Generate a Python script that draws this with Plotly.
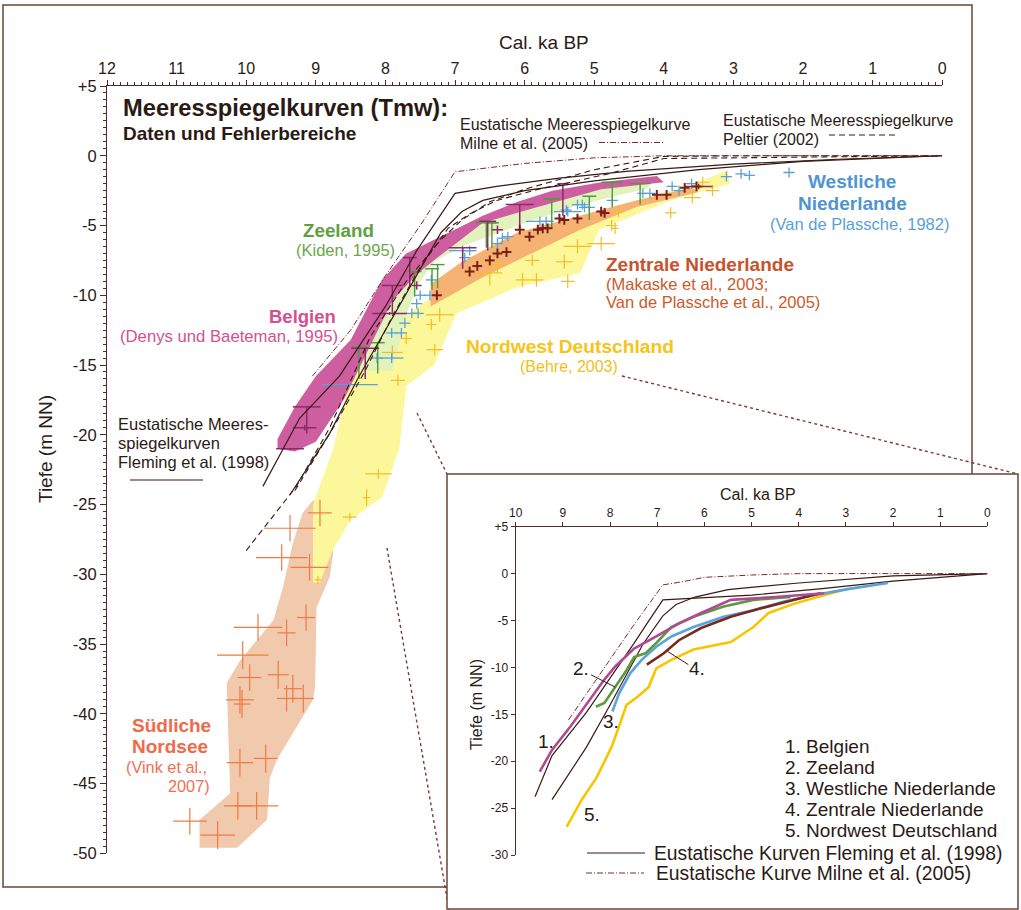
import plotly.graph_objects as go

W, H = 1021, 910
def px(x):
    return x / W
def py(y):
    return 1 - y / H

FONT = "Liberation Sans, Arial, sans-serif"
TXT = "#2b1a14"
AX = "#4a2c22"
FRAME = "#6b4535"
CURVE = "#3a1a12"
MILNE_C = "#7a2a2a"

# ---------------- main chart: axis ticks ----------------
main_xticks = list(range(0, 13))
main_yticks = [5, 0, -5, -10, -15, -20, -25, -30, -35, -40, -45, -50]
main_yticktext = ["+5", "0", "-5", "-10", "-15", "-20", "-25", "-30", "-35", "-40", "-45", "-50"]
inset_xticks = list(range(0, 11))
inset_yticks = [5, 0, -5, -10, -15, -20, -25, -30]
inset_yticktext = ["+5", "0", "-5", "-10", "-15", "-20", "-25", "-30"]

# ---------------- main chart: error bands ----------------
sn_band_x = [10.67, 10.67, 10.23, 10.28, 10.09, 9.61, 9.47, 9.33, 9.19, 9.04, 8.80, 8.75, 8.80, 8.99, 9.01, 9.04, 9.56, 9.66, 9.70, 10.13]
sn_band_y = [-49.6, -47.6, -45.7, -37.8, -36.2, -33.3, -30.9, -27.8, -25.6, -24.7, -26.0, -28.5, -30.2, -32.4, -38.1, -39.0, -43.3, -44.6, -47.6, -49.6]

nd_band_x = [9.04, 9.04, 8.75, 8.47, 8.37, 8.00, 7.30, 6.60, 5.90, 5.20, 4.40, 3.60, 3.08,
             3.05, 3.90, 4.93, 5.20, 6.10, 6.98, 7.30, 7.70, 7.80, 8.05, 8.50, 8.76, 8.94]
nd_band_y = [-30.6, -25.0, -21.0, -15.0, -13.5, -12.5, -10.0, -8.0, -6.2, -4.6, -3.2, -2.1, -1.0,
             -2.0, -3.2, -5.3, -8.4, -9.4, -11.3, -15.0, -16.5, -21.0, -24.5, -26.1, -28.3, -30.6]

ze_band_x = [8.45, 8.00, 7.55, 7.25, 6.60, 5.90, 4.90, 4.25, 4.20, 5.20, 6.10, 6.90, 7.30, 7.50, 7.70, 7.90, 8.42]
ze_band_y = [-13.5, -10.0, -8.3, -7.1, -4.7, -3.7, -2.3, -1.8, -2.3, -3.5, -5.0, -6.5, -7.6, -9.0, -11.3, -15.4, -15.4]

zn_band_x = [7.35, 6.90, 6.10, 5.20, 4.40, 3.60, 3.50, 4.40, 5.20, 5.90, 6.60, 7.35]
zn_band_y = [-9.2, -7.6, -5.5, -4.3, -3.2, -2.3, -2.6, -3.7, -5.3, -7.0, -8.7, -10.8]

be_band_x = [9.55, 9.30, 9.00, 8.50, 8.05, 7.70, 7.25, 6.60, 6.10, 5.60, 4.90, 4.10,
             4.00, 4.90, 5.90, 6.60, 7.25, 7.55, 7.90, 8.30, 8.60, 9.00, 9.30, 9.55]
be_band_y = [-20.3, -18.0, -15.8, -13.2, -8.9, -7.0, -5.9, -4.3, -3.3, -2.5, -1.9, -1.45,
             -1.9, -2.4, -3.8, -4.8, -7.3, -8.5, -10.4, -14.5, -17.5, -20.5, -21.2, -21.0]

# ---------------- main chart: eustatic curves ----------------
fleming_a_x = [9.76, 9.23, 8.66, 8.00, 7.55, 7.00, 6.40, 5.50, 4.50, 3.00, 1.50, 0.0]
fleming_a_y = [-23.7, -18.8, -15.8, -10.8, -6.8, -2.7, -2.2, -1.6, -1.1, -0.6, -0.25, 0.0]
fleming_b_x = [9.37, 8.80, 8.40, 7.94, 7.60, 7.20, 6.90, 6.60, 6.00, 5.00, 3.50, 2.00, 0.0]
fleming_b_y = [-24.3, -19.9, -16.0, -12.0, -9.0, -5.5, -4.0, -3.2, -2.5, -1.8, -1.0, -0.4, 0.0]
peltier_a_x = [10.0, 9.28, 8.80, 8.22, 7.70, 7.20, 6.90, 6.50, 6.00, 5.00, 4.00, 3.00, 0.0]
peltier_a_y = [-28.3, -23.7, -19.5, -13.0, -9.0, -6.0, -4.6, -3.3, -2.4, -1.0, -0.05, 0.0, 0.0]
peltier_b_x = [9.30, 8.75, 8.30, 7.90, 7.50, 7.10, 6.80, 6.40, 5.80, 4.80, 4.00, 0.0]
peltier_b_y = [-24.0, -19.5, -15.5, -11.5, -8.0, -5.2, -4.2, -3.2, -2.4, -1.3, -0.2, 0.0]
milne_x = [9.05, 8.50, 8.00, 7.50, 7.00, 6.50, 6.00, 5.00, 4.00, 0.0]
milne_y = [-15.8, -12.5, -8.6, -5.0, -1.15, -0.85, -0.55, -0.15, 0.0, 0.0]

# ---------------- main chart: data points ----------------
# Suedliche Nordsee (Vink et al., 2007)
sn_x = [9.37, 9.49, 9.09, 8.94, 9.83, 9.42, 9.14, 10.05, 9.95, 10.09, 10.06, 9.54, 9.42, 9.33, 9.18, 10.09, 9.72, 10.12, 9.85, 10.81, 10.41]
sn_y = [-26.7, -28.8, -29.5, -25.6, -33.8, -34.2, -33.1, -35.8, -37.4, -39.0, -39.3, -37.2, -38.9, -38.2, -38.9, -43.5, -43.2, -46.6, -46.6, -47.7, -48.7]
sn_xerr = [0.37, 0.37, 0.27, 0.17, 0.35, 0.13, 0.13, 0.37, 0.17, 0.20, 0.12, 0.15, 0.14, 0.13, 0.15, 0.19, 0.17, 0.20, 0.31, 0.24, 0.25]
sn_yerr = [0.95, 0.95, 0.95, 0.95, 0.95, 0.95, 0.95, 1.0, 0.95, 1.0, 1.0, 1.0, 0.95, 1.0, 1.0, 1.0, 1.0, 1.0, 1.0, 0.95, 1.0]

# Nordwest Deutschland (Behre, 2003)
nd_x = [8.10, 8.27, 8.51, 8.97, 7.82, 7.90, 7.70, 7.34, 7.22, 7.29, 6.50, 6.39, 6.03, 5.83, 5.89, 5.43, 5.38, 5.24, 4.90, 4.75, 4.70, 4.65, 3.90, 3.59, 3.30, 3.44]
nd_y = [-22.8, -24.5, -25.9, -30.4, -16.1, -14.1, -13.1, -12.1, -11.4, -13.9, -8.4, -7.8, -8.9, -8.9, -7.5, -7.6, -9.0, -6.5, -6.3, -5.0, -5.2, -4.0, -4.1, -3.0, -2.5, -1.9]
nd_xerr = [0.19, 0.05, 0.10, 0.05, 0.10, 0.15, 0.08, 0.07, 0.20, 0.12, 0.18, 0.15, 0.10, 0.10, 0.10, 0.12, 0.10, 0.20, 0.20, 0.08, 0.05, 0.08, 0.08, 0.12, 0.10, 0.10]
nd_yerr = [0.35, 0.60, 0.30, 0.30, 0.40, 0.50, 0.40, 0.40, 0.50, 0.40, 0.90, 0.60, 0.50, 0.50, 0.40, 0.50, 0.50, 0.50, 0.50, 0.40, 0.40, 0.40, 0.40, 0.40, 0.40, 0.40]

# Westliche Niederlande (Van de Plassche, 1982)
wn_x = [8.51, 8.12, 7.91, 7.91, 7.77, 7.72, 7.62, 7.53, 7.55, 7.50, 7.36, 7.34, 6.89, 6.86, 6.79, 6.39, 6.32, 6.24,
        5.78, 5.69, 5.40, 5.38, 5.24, 5.17, 5.14, 5.07, 4.74, 4.30, 4.20, 3.88, 3.78, 3.60, 3.10, 2.89, 2.77, 2.20]
wn_y = [-16.4, -14.5, -14.5, -12.7, -12.7, -12.0, -11.3, -11.3, -10.6, -10.0, -10.0, -8.9, -6.8, -7.3, -6.8, -6.3, -5.9, -5.8,
        -4.7, -4.7, -3.9, -4.0, -3.5, -3.5, -3.7, -3.7, -3.2, -2.7, -2.7, -2.2, -2.5, -2.0, -1.5, -1.3, -1.4, -1.2]
wn_xerr = [0.40, 0.08, 0.17, 0.08, 0.08, 0.08, 0.08, 0.08, 0.08, 0.08, 0.08, 0.08, 0.20, 0.08, 0.08, 0.08, 0.08, 0.08,
           0.20, 0.08, 0.08, 0.20, 0.08, 0.08, 0.08, 0.08, 0.08, 0.08, 0.08, 0.08, 0.08, 0.08, 0.08, 0.08, 0.08, 0.08]
wn_yerr = [0.10, 0.35, 0.35, 0.35, 0.35, 0.35, 0.35, 0.35, 0.35, 0.35, 0.35, 0.35, 0.35, 0.35, 0.35, 0.35, 0.35, 0.35,
           0.35, 0.35, 0.35, 0.35, 0.35, 0.35, 0.35, 0.35, 0.35, 0.35, 0.35, 0.35, 0.35, 0.35, 0.35, 0.35, 0.35, 0.35]

# Zeeland (Kiden, 1995) - upper limits (T shapes)
ze_x = [8.38, 8.11, 7.58, 7.33, 7.25, 6.55, 6.47, 5.61, 5.07, 4.74, 4.34]
ze_y = [-13.7, -13.4, -8.3, -8.1, -7.8, -4.8, -4.8, -3.1, -2.9, -1.9, -2.0]
ze_xerr = [0.11, 0.10, 0.10, 0.10, 0.10, 0.15, 0.10, 0.12, 0.10, 0.15, 0.15]
ze_ydown = [2.3, 2.2, 1.8, 1.5, 1.7, 1.8, 1.8, 2.1, 1.7, 1.8, 1.5]

# Belgien (Denys und Baeteman, 1995)
be_x = [9.13, 9.16, 9.37, 8.29, 7.90, 7.94, 7.65, 7.55, 6.89, 6.53, 6.39, 6.07, 5.45, 3.50]
be_y = [-18.0, -19.5, -21.0, -13.8, -9.3, -11.3, -7.3, -9.3, -6.6, -4.7, -5.3, -3.5, -2.0, -2.2]
be_xerr = [0.20, 0.17, 0.20, 0.20, 0.15, 0.25, 0.10, 0.07, 0.20, 0.12, 0.08, 0.20, 0.08, 0.20]
be_yup = [0.0, 0.2, 0.0, 0.0, 0.0, 0.1, 0.0, 0.3, 0.0, 0.0, 0.3, 0.0, 0.0, 0.2]
be_ydown = [1.9, 0.2, 0.1, 2.2, 2.0, 0.1, 2.0, 0.3, 1.5, 2.1, 0.3, 2.0, 2.3, 0.2]

# Zentrale Niederlande (Makaske et al., 2003; Van de Plassche et al., 2005)
zn_x = [7.26, 6.79, 6.68, 6.50, 6.39, 6.26, 6.07, 5.93, 5.81, 5.74, 5.67, 5.50, 5.43, 5.24, 4.90, 4.85, 4.10, 3.96, 3.70, 3.53]
zn_y = [-10.0, -8.3, -7.9, -7.5, -7.0, -6.9, -5.3, -5.8, -5.3, -5.2, -5.2, -4.5, -4.6, -4.5, -4.0, -4.1, -2.8, -2.8, -2.3, -2.2]
zn_xerr = [0.07, 0.07, 0.07, 0.07, 0.07, 0.07, 0.07, 0.07, 0.07, 0.07, 0.07, 0.07, 0.07, 0.07, 0.07, 0.07, 0.07, 0.07, 0.07, 0.07]
zn_yerr = [0.35, 0.35, 0.35, 0.35, 0.35, 0.35, 0.35, 0.35, 0.35, 0.35, 0.35, 0.35, 0.35, 0.35, 0.35, 0.35, 0.35, 0.35, 0.35, 0.35]

# ---------------- inset: summary curves ----------------
in_belg_x = [9.49, 9.23, 8.84, 8.44, 8.12, 7.89, 7.49, 7.02, 6.54, 6.07, 5.44, 4.49, 3.46]
in_belg_y = [-21.1, -18.8, -16.3, -13.5, -11.3, -9.9, -8.0, -6.7, -5.3, -4.2, -2.8, -2.5, -2.1]
in_zee_x = [8.30, 8.12, 7.89, 7.65, 7.49, 7.25, 7.02, 6.70, 6.23, 5.59, 4.96, 4.17]
in_zee_y = [-14.2, -13.8, -12.1, -10.3, -8.9, -8.5, -7.4, -5.7, -4.6, -3.5, -2.8, -2.5]
in_wnl_x = [7.95, 7.81, 7.57, 7.33, 7.02, 6.70, 6.23, 5.59, 4.96, 4.33, 3.69, 2.90, 2.11]
in_wnl_y = [-14.7, -12.8, -10.6, -9.2, -7.8, -6.7, -5.7, -4.6, -3.9, -3.0, -2.3, -1.6, -1.0]
in_znl_x = [7.22, 6.86, 6.54, 6.07, 5.44, 4.80, 4.09, 3.54]
in_znl_y = [-9.7, -8.5, -7.1, -5.8, -4.6, -3.7, -2.8, -2.1]
in_nwd_x = [8.92, 8.60, 8.28, 7.97, 7.81, 7.65, 7.41, 7.18, 7.02, 6.70, 6.23, 5.44, 4.96, 4.64, 4.09, 3.06]
in_nwd_y = [-27.0, -24.1, -21.7, -18.5, -16.3, -14.0, -13.1, -12.1, -10.1, -9.2, -8.1, -7.3, -5.7, -4.2, -3.2, -1.75]
in_fl1_x = [9.59, 9.23, 8.50, 8.00, 7.50, 7.20, 6.88, 5.00, 3.50, 2.00, 0.0]
in_fl1_y = [-23.8, -19.4, -14.8, -11.2, -7.5, -5.2, -2.8, -2.3, -1.6, -0.8, 0.0]
in_fl2_x = [9.23, 8.50, 8.00, 7.30, 6.88, 6.60, 6.20, 5.50, 4.00, 2.00, 0.0]
in_fl2_y = [-24.1, -18.5, -14.0, -7.5, -4.5, -3.3, -2.5, -1.7, -1.0, -0.25, 0.0]
in_milne_x = [8.88, 7.50, 6.88, 6.50, 6.00, 5.00, 4.00, 0.0]
in_milne_y = [-15.6, -5.5, -1.2, -0.9, -0.4, -0.15, 0.0, 0.0]

# ---------------- colours ----------------
C_SN_BAND = "#f1c9ad"
C_ND_BAND = "#fbf79a"
C_ZE_BAND = "#e1f2bd"
C_ZN_BAND = "#f5b273"
C_BE_BAND = "#cd5fa0"
C_SN = "#f07a45"
C_ND = "#f5bd25"
C_WN = "#5a9fd8"
C_ZE = "#4f9a3a"
C_BE = "#8e2a6a"
C_ZN = "#7a2016"

fig = go.Figure()

def band(x, y, color):
    fig.add_trace(go.Scatter(x=x, y=y, mode="lines", fill="toself", fillcolor=color,
                             line=dict(width=0, color=color), hoverinfo="skip",
                             xaxis="x", yaxis="y", showlegend=False))

band(sn_band_x, sn_band_y, C_SN_BAND)
band(nd_band_x, nd_band_y, C_ND_BAND)
band(ze_band_x, ze_band_y, C_ZE_BAND)
band(zn_band_x, zn_band_y, C_ZN_BAND)
band(be_band_x, be_band_y, C_BE_BAND)

def curve(x, y, dash, color, width, xa="x", ya="y"):
    fig.add_trace(go.Scatter(x=x, y=y, mode="lines", line=dict(color=color, width=width, dash=dash),
                             hoverinfo="skip", xaxis=xa, yaxis=ya, showlegend=False))

def crosses(x, y, xe, ye_up, ye_down, color, th=1.3):
    fig.add_trace(go.Scatter(
        x=x, y=y, mode="markers", marker=dict(size=1, color=color),
        error_x=dict(type="data", array=xe, symmetric=True, color=color, thickness=th, width=0),
        error_y=dict(type="data", array=ye_up, arrayminus=ye_down, symmetric=False, color=color, thickness=th, width=0),
        hoverinfo="skip", xaxis="x", yaxis="y", showlegend=False))

# data crosses
crosses(sn_x, sn_y, sn_xerr, sn_yerr, sn_yerr, C_SN, 1.2)
crosses(nd_x, nd_y, nd_xerr, nd_yerr, nd_yerr, C_ND, 1.2)
crosses(wn_x, wn_y, wn_xerr, wn_yerr, wn_yerr, C_WN, 1.3)
crosses(ze_x, ze_y, ze_xerr, [0] * len(ze_x), ze_ydown, C_ZE, 1.4)
crosses(be_x, be_y, be_xerr, be_yup, be_ydown, C_BE, 1.5)
crosses(zn_x, zn_y, zn_xerr, zn_yerr, zn_yerr, C_ZN, 2.0)

# eustatic curves (main)
curve(fleming_a_x, fleming_a_y, "solid", CURVE, 1.2)
curve(fleming_b_x, fleming_b_y, "solid", CURVE, 1.2)
curve(peltier_a_x, peltier_a_y, "6px,4px", CURVE, 1.1)
curve(peltier_b_x, peltier_b_y, "6px,4px", CURVE, 1.1)
curve(milne_x, milne_y, "6px,2px,1px,2px", MILNE_C, 1.0)

# inset curves
curve(in_fl1_x, in_fl1_y, "solid", CURVE, 1.2, "x2", "y2")
curve(in_fl2_x, in_fl2_y, "solid", CURVE, 1.2, "x2", "y2")
curve(in_milne_x, in_milne_y, "6px,2px,1px,2px", MILNE_C, 1.0, "x2", "y2")
curve(in_nwd_x, in_nwd_y, "solid", "#f7c600", 2.6, "x2", "y2")
curve(in_wnl_x, in_wnl_y, "solid", "#5aa3dc", 2.6, "x2", "y2")
curve(in_znl_x, in_znl_y, "solid", "#7a2a1c", 2.6, "x2", "y2")
curve(in_zee_x, in_zee_y, "solid", "#5c9a42", 2.6, "x2", "y2")
curve(in_belg_x, in_belg_y, "solid", "#b04a92", 2.6, "x2", "y2")

# ---------------- shapes ----------------
shapes = []
shapes.append(dict(type="rect", xref="paper", yref="paper", x0=px(3), x1=px(972), y0=py(887), y1=py(5),
                   line=dict(color=FRAME, width=1.5), fillcolor="rgba(0,0,0,0)", layer="below"))
DOT = "#7a3a3a"
for (x0, y0, x1, y1) in [(622, 376, 1018, 474), (417, 413, 447, 474), (387, 548, 449, 910)]:
    shapes.append(dict(type="line", xref="paper", yref="paper", x0=px(x0), y0=py(y0), x1=px(x1), y1=py(y1),
                       line=dict(color=DOT, width=1.4, dash="dot"), layer="below"))
shapes.append(dict(type="rect", xref="paper", yref="paper", x0=px(447), x1=px(1018), y0=py(909), y1=py(474),
                   line=dict(color=FRAME, width=1.5), fillcolor="white", layer="below"))
# legend sample lines (main)
shapes.append(dict(type="line", xref="paper", yref="paper", x0=px(599), x1=px(664), y0=py(142.5), y1=py(142.5),
                   line=dict(color=MILNE_C, width=1, dash="6px,2px,1px,2px")))
shapes.append(dict(type="line", xref="paper", yref="paper", x0=px(829), x1=px(899), y0=py(135), y1=py(135),
                   line=dict(color=CURVE, width=1.1, dash="6px,4px")))
shapes.append(dict(type="line", xref="paper", yref="paper", x0=px(130), x1=px(203), y0=py(480), y1=py(480),
                   line=dict(color=CURVE, width=1.2)))
# legend sample lines (inset)
shapes.append(dict(type="line", xref="paper", yref="paper", x0=px(587), x1=px(645), y0=py(853), y1=py(853),
                   line=dict(color=CURVE, width=1.2)))
shapes.append(dict(type="line", xref="paper", yref="paper", x0=px(586), x1=px(644), y0=py(873), y1=py(873),
                   line=dict(color=MILNE_C, width=1, dash="6px,2px,1px,2px")))
# inset leader lines
shapes.append(dict(type="line", xref="x2", yref="y2", x0=8.40, y0=-10.8, x1=7.89, y1=-12.1,
                   line=dict(color=CURVE, width=1)))
shapes.append(dict(type="line", xref="x2", yref="y2", x0=6.78, y0=-8.3, x1=6.34, y1=-9.7,
                   line=dict(color=CURVE, width=1)))

# ---------------- annotations ----------------
ann = []
def text(x, y, s, size, color=TXT, bold=False, anchor="left", angle=0):
    t = "<b>%s</b>" % s if bold else s
    ann.append(dict(x=px(x), y=py(y), xref="paper", yref="paper", text=t, showarrow=False,
                    xanchor=anchor, yanchor="middle", textangle=angle,
                    font=dict(family=FONT, size=size, color=color)))

text(544, 42, "Cal. ka BP", 19, anchor="center")
text(45, 449, "Tiefe (m NN)", 19, anchor="center", angle=-90)
text(121, 108, "Meeresspiegelkurven (Tmw):", 23.7, bold=True)
text(121, 133, "Daten und Fehlerbereiche", 19, bold=True)
text(458, 125, "Eustatische Meeresspiegelkurve", 16)
text(458, 143, "Milne et al. (2005)", 16)
text(721, 121, "Eustatische Meeresspiegelkurve", 16)
text(721, 139, "Peltier (2002)", 16)
text(852, 182, "Westliche", 19, "#4f95d2", True, "center")
text(852, 204, "Niederlande", 19, "#4f95d2", True, "center")
text(859, 224, "(Van de Plassche, 1982)", 16.5, "#5a9fd8", anchor="center")
text(338, 230, "Zeeland", 18.8, "#5e9f3e", True, "center")
text(345, 250, "(Kiden, 1995)", 16.5, "#6aa84a", anchor="center")
text(302, 316, "Belgien", 18.5, "#d5508e", True, "center")
text(229, 336, "(Denys und Baeteman, 1995)", 16.7, "#d5508e", anchor="center")
text(604, 264, "Zentrale Niederlande", 19, "#c8522a", True)
text(604, 284, "(Makaske et al., 2003;", 16.5, "#cc5a2c")
text(604, 302, "Van de Plassche et al., 2005)", 16.5, "#cc5a2c")
text(464, 346, "Nordwest Deutschland", 19.2, "#f6c41a", True)
text(518, 366, "(Behre, 2003)", 16, "#f0bf20")
text(116, 424, "Eustatische Meeres-", 16.5)
text(116, 443, "spiegelkurven", 16.5)
text(116, 462, "Fleming et al. (1998)", 16.5)
text(130, 725, "Südliche", 19, "#f06a4a", True)
text(130, 746, "Nordsee", 19, "#f06a4a", True)
text(124, 767, "(Vink et al.,", 16.3, "#f07050")
text(212, 786, "2007)", 16.3, "#f07050", anchor="right")

# inset texts
text(758, 495, "Cal. ka BP", 16, anchor="center")
text(476, 705, "Tiefe (m NN)", 16, anchor="center", angle=-90)
text(783, 746, "1. Belgien", 19)
text(783, 767, "2. Zeeland", 19)
text(783, 788, "3. Westliche Niederlande", 19)
text(783, 809, "4. Zentrale Niederlande", 19)
text(783, 830, "5. Nordwest Deutschland", 19)
text(652, 853, "Eustatische Kurven Fleming et al. (1998)", 19.3)
text(654, 873, "Eustatische Kurve Milne et al. (2005)", 19.3)
for (lx, ly, s) in [(9.35, -17.9, "1."), (8.62, -10.1, "2."), (7.98, -15.8, "3."), (6.16, -10.1, "4."), (8.38, -25.7, "5.")]:
    ann.append(dict(x=lx, y=ly, xref="x2", yref="y2", text=s, showarrow=False, xanchor="center",
                    yanchor="middle", font=dict(family=FONT, size=19, color=TXT)))

axis_common = dict(showline=True, linecolor=AX, linewidth=1.2, ticks="outside", tickcolor=AX,
                   tickwidth=1, showgrid=False, zeroline=False, fixedrange=True, automargin=False)

fig.update_layout(
    width=W, height=H, autosize=False,
    margin=dict(l=0, r=0, t=0, b=0, pad=0),
    paper_bgcolor="white", plot_bgcolor="rgba(0,0,0,0)",
    showlegend=False,
    font=dict(family=FONT, color=TXT),
    xaxis=dict(domain=[px(107), px(942.2)], range=[12, 0], side="top", anchor="y",
               tickmode="array", tickvals=main_xticks, ticklen=5, tickfont=dict(size=16, color=TXT),
               minor=dict(tickmode="linear", tick0=0, dtick=0.1, ticks="outside", ticklen=3,
                          tickcolor=AX, tickwidth=0.8),
               **axis_common),
    yaxis=dict(domain=[py(853.3), py(86)], range=[-50, 5], anchor="x", side="left",
               tickmode="array", tickvals=main_yticks, ticktext=main_yticktext, ticklen=6,
               tickfont=dict(size=16.5, color=TXT),
               minor=dict(tickmode="linear", tick0=0, dtick=0.5, ticks="outside", ticklen=3,
                          tickcolor=AX, tickwidth=0.8),
               **axis_common),
    xaxis2=dict(domain=[px(515.7), px(987.4)], range=[10, 0], side="top", anchor="y2",
                tickmode="array", tickvals=inset_xticks, ticklen=4, tickfont=dict(size=12, color=TXT),
                **axis_common),
    yaxis2=dict(domain=[py(855), py(526.7)], range=[-30, 5], anchor="x2", side="left",
                tickmode="array", tickvals=inset_yticks, ticktext=inset_yticktext, ticklen=4,
                tickfont=dict(size=12, color=TXT),
                **axis_common),
    shapes=shapes,
    annotations=ann,
)

fig.write_html("out.html", config={"displayModeBar": False},
               post_script="document.body.style.margin='0px';document.body.style.overflow='hidden';")
